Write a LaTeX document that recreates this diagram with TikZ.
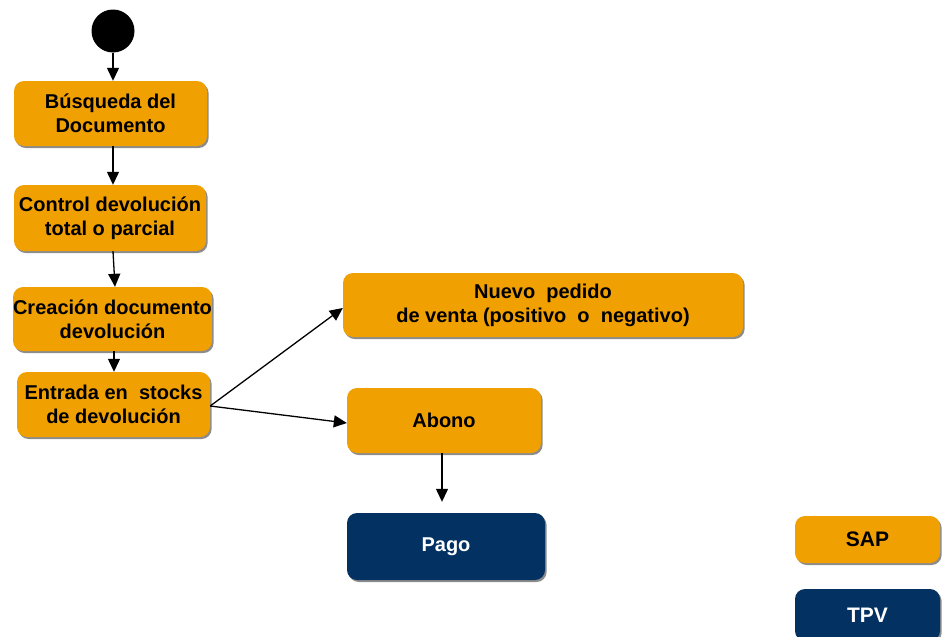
\documentclass[tikz,border=0pt]{standalone}
\usepackage{fontspec}
\setmainfont{Liberation Sans}
\usetikzlibrary{shadows,arrows.meta}
\definecolor{sapor}{HTML}{F0A000}
\definecolor{tpvnavy}{HTML}{033262}
\begin{document}
\begin{tikzpicture}[x=1pt,y=-1pt,
  box/.style={rounded corners=10pt, inner sep=0pt, align=center,
    font=\fontsize{20}{24}\selectfont\bfseries,
    drop shadow={shadow xshift=1.6pt, shadow yshift=-2pt, opacity=0.45, fill=black}},
  sapbox/.style={box, fill=sapor, text=black},
  tpvbox/.style={box, fill=tpvnavy, text=white},
  flow/.style={line width=1.3pt, -{Triangle[length=13pt,width=12pt]}}]
\useasboundingbox (0,0) rectangle (945,637);

% initial state
\node[circle, fill=black, minimum size=43pt, inner sep=0pt] (start) at (113,31) {};

% process steps
\node[sapbox, minimum width=193pt, minimum height=65pt] (b1) at (110.5,113.5) {Búsqueda del\\Documento};
\node[sapbox, minimum width=192pt, minimum height=66pt] (b2) at (110,218) {Control devolución\\total o parcial};
\node[sapbox, minimum width=195pt, minimum height=64pt] (b3) at (112.5,319) {Creación documento\\devolución};
\node[sapbox, minimum width=193pt, minimum height=65pt] (b4) at (113.5,404.5) {Entrada en\ \ stocks\\de devolución};
\node[sapbox, minimum width=400pt, minimum height=64pt] (b5) at (543,305) {Nuevo\ \ pedido\\de venta (positivo\ \ o\ \ negativo)};
\node[sapbox, minimum width=194pt, minimum height=65pt] (b6) at (444,420.5) {Abono};
\node[tpvbox, minimum width=198pt, minimum height=67pt] (b7) at (446,546.5) {Pago};

% legend
\node[sapbox, minimum width=145pt, minimum height=47pt, font=\fontsize{21}{24}\selectfont\bfseries] (lsap) at (867.5,539.5) {SAP};
\node[tpvbox, minimum width=145pt, minimum height=52pt, font=\fontsize{21}{24}\selectfont\bfseries] (ltpv) at (867.5,615) {TPV};

% connectors
\draw[flow] (start.south) -- (start.south |- b1.north);
\draw[flow] (b1.south -| start.south) -- (b2.north -| start.south);
\draw[flow] (b2.south -| start.south) -- ([xshift=2pt]b3.north -| start.south);
\draw[flow] ([xshift=1pt]b3.south -| start.south) -- ([xshift=1pt]b4.north -| start.south);
\draw[flow] ([yshift=-1.5pt]b4.east) -- ([yshift=-3pt]b5.west);
\draw[flow] ([yshift=-1.5pt]b4.east) -- ([yshift=-2.5pt]b6.west);
\draw[flow, shorten >=11pt] ([xshift=-2pt]b6.south) -- ([xshift=-2pt]b6.south |- b7.north);
\end{tikzpicture}
\end{document}
